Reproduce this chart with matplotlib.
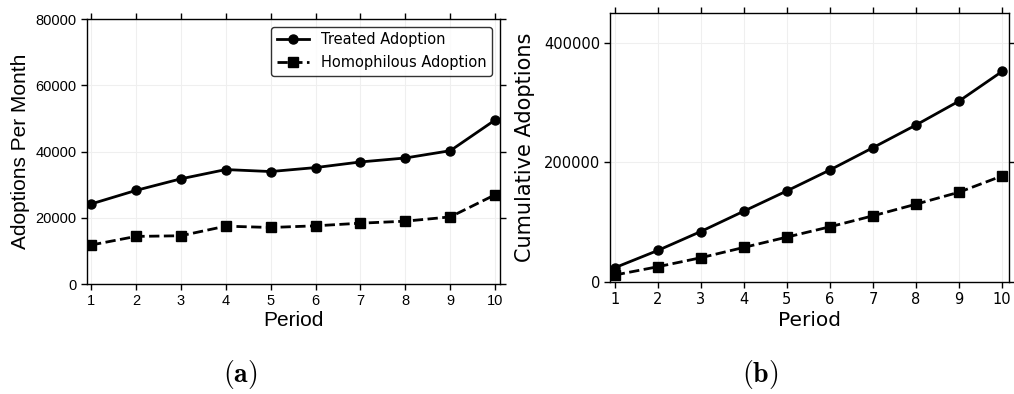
import numpy as np
import matplotlib
matplotlib.use("Agg")
import matplotlib.pyplot as plt

periods = [1, 2, 3, 4, 5, 6, 7, 8, 9, 10]

# monthly adoptions
treated_month = [24200, 28300, 31800, 34600, 34000, 35200, 36900, 38100, 40300, 49600]
homo_month = [11800, 14400, 14600, 17500, 17100, 17600, 18400, 19000, 20300, 27000]

# cumulative adoptions
treated_cum = [23400, 52400, 84200, 118300, 152300, 187400, 224800, 262800, 302900, 352600]
homo_cum = [11200, 25100, 40200, 57500, 74800, 92100, 110500, 130000, 150100, 177400]

plt.rcParams['font.family'] = ['DejaVu Sans']
plt.rcParams['mathtext.fontset'] = 'cm'

fig = plt.figure(figsize=(10.14, 3.94), dpi=100)
ax1 = fig.add_axes([0.0858, 0.279, 0.407, 0.672])
ax2 = fig.add_axes([0.602, 0.285, 0.393, 0.681])

for ax in (ax1, ax2):
    ax.tick_params(direction='out', top=True, right=True, length=4, width=1)
    ax.grid(True, color='#efefef', linewidth=0.8)
    ax.set_axisbelow(True)
    for s in ax.spines.values():
        s.set_linewidth(1.0)
    ax.set_xticks(periods)

# panel a: Arial-like text
ax1.plot(periods, treated_month, '-o', color='black', lw=2, ms=6.5, label='Treated Adoption')
ax1.plot(periods, homo_month, '--s', color='black', lw=2, ms=6.5, label='Homophilous Adoption')
ax1.set_xlim(0.91, 10.1)
ax1.set_ylim(0, 80000)
ax1.set_yticks([0, 20000, 40000, 60000, 80000])
ax1.set_ylabel('Adoptions Per Month', fontsize=15, family='Liberation Sans', labelpad=4)
ax1.set_xlabel('Period', fontsize=15, family='Liberation Sans', labelpad=2)
for lab in ax1.get_xticklabels() + ax1.get_yticklabels():
    lab.set_fontfamily('Liberation Sans')
    lab.set_fontsize(10.5)
leg = ax1.legend(loc='upper right', fontsize=10.5, frameon=True, fancybox=True,
                 edgecolor='black', handlelength=2.2, borderpad=0.4)
leg.get_frame().set_linewidth(1.0)

# panel b
ax2.plot(periods, treated_cum, '-o', color='black', lw=2, ms=6.5)
ax2.plot(periods, homo_cum, '--s', color='black', lw=2, ms=6.5)
ax2.set_ylim(0, 450000)
ax2.set_xlim(0.9, 10.16)
ax2.set_yticks([0, 200000, 400000])
ax2.tick_params(labelsize=10.5)
ax2.set_ylabel('Cumulative Adoptions', fontsize=15, labelpad=6)
ax2.set_xlabel('Period', fontsize=14.5, labelpad=3)

fig.text(0.237, 0.03, r'$\mathbf{(a)}$', fontsize=20, ha='center')
fig.text(0.750, 0.03, r'$\mathbf{(b)}$', fontsize=20, ha='center')

fig.savefig('out.png', dpi=100)
